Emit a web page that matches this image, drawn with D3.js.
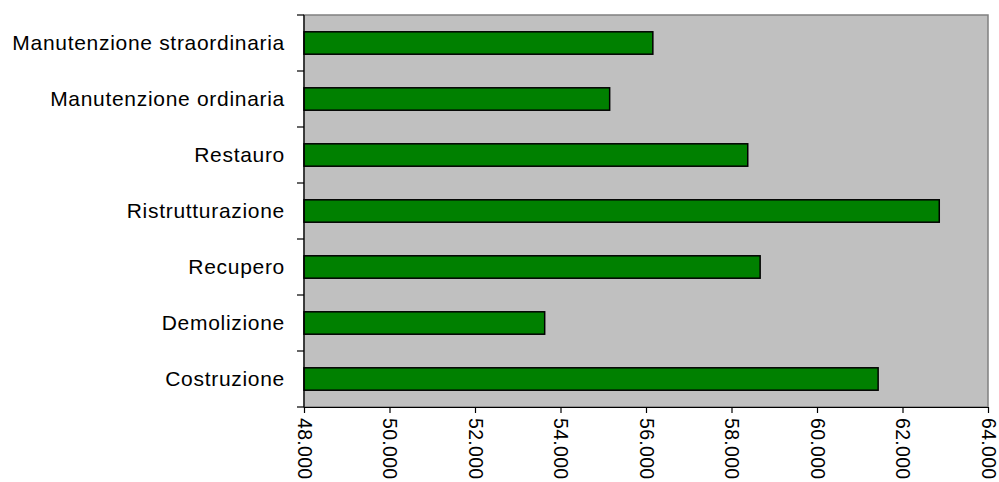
<!DOCTYPE html>
<html>
<head>
<meta charset="utf-8">
<script src="https://cdn.jsdelivr.net/npm/d3@7"></script>
<style>
  body { margin: 0; background: #fff; }
  text { font-family: "Liberation Sans", Arial, sans-serif; }
</style>
</head>
<body>
<div id="vis"></div>
<script>
// categories top to bottom
const categories = [
  "Manutenzione straordinaria",
  "Manutenzione ordinaria",
  "Restauro",
  "Ristrutturazione",
  "Recupero",
  "Demolizione",
  "Costruzione"
];
const values = [56160, 55150, 58380, 62860, 58670, 53630, 61430];
const xTicks = [48000, 50000, 52000, 54000, 56000, 58000, 60000, 62000, 64000];

const width = 999;
const height = 482;
const margin = {top: 15, right: 11, bottom: 75, left: 304};

const it = d3.formatLocale({decimal: ",", thousands: ".", grouping: [3], currency: ["€", ""]});
const fmt = it.format(",.0f");

const svg = d3.select("#vis").append("svg")
  .attr("width", width).attr("height", height);

const x = d3.scaleLinear().domain([48000, 64000]).range([margin.left, width - margin.right]);
const y = d3.scaleBand().domain(categories).range([margin.top, height - margin.bottom])
  .paddingInner(0.6).paddingOuter(0.3);

// plot area
svg.append("rect")
  .attr("x", x(48000)).attr("y", margin.top)
  .attr("width", x(64000) - x(48000)).attr("height", height - margin.bottom - margin.top)
  .attr("fill", "#c0c0c0").attr("stroke", "#808080").attr("stroke-width", 1.5);

// bars
svg.append("g").selectAll("rect")
  .data(categories)
  .join("rect")
  .attr("x", x(48000))
  .attr("y", d => y(d))
  .attr("width", (d, i) => x(values[i]) - x(48000))
  .attr("height", y.bandwidth())
  .attr("fill", "#008000")
  .attr("stroke", "#000").attr("stroke-width", 1.5);

// y axis with ticks at band boundaries
const yAxis = svg.append("g").attr("transform", `translate(${x(48000)},0)`);
yAxis.append("line")
  .attr("x1", 0).attr("x2", 0)
  .attr("y1", margin.top).attr("y2", height - margin.bottom)
  .attr("stroke", "#000").attr("stroke-width", 1.2);
const bounds = d3.range(categories.length + 1).map(i => margin.top + i * (height - margin.bottom - margin.top) / categories.length);
yAxis.selectAll("line.tk").data(bounds).join("line").attr("class", "tk")
  .attr("x1", -7).attr("x2", 0).attr("y1", d => d).attr("y2", d => d)
  .attr("stroke", "#000").attr("stroke-width", 1.2);
yAxis.selectAll("text").data(categories).join("text")
  .attr("x", -19)
  .attr("y", d => y(d) + y.bandwidth() / 2)
  .attr("dy", "0.35em")
  .attr("text-anchor", "end")
  .attr("font-size", "21px")
  .attr("letter-spacing", "0.7px")
  .attr("fill", "#000")
  .text(d => d);

// x axis
const xAxis = svg.append("g")
  .attr("transform", `translate(0,${height - margin.bottom})`)
  .call(d3.axisBottom(x).tickValues(xTicks).tickFormat(fmt).tickSize(6).tickSizeOuter(0));
xAxis.select(".domain").attr("stroke", "#000").attr("stroke-width", 1.2);
xAxis.selectAll(".tick line").attr("stroke", "#000").attr("stroke-width", 1.2);
xAxis.selectAll(".tick text")
  .attr("font-family", "Liberation Sans, Arial, sans-serif")
  .attr("font-size", "19.5px")
  .attr("letter-spacing", "0.3px")
  .attr("fill", "#000")
  .attr("transform", "rotate(90)")
  .attr("x", 11).attr("y", 0).attr("dy", "0.35em")
  .attr("text-anchor", "start");
</script>
</body>
</html>
